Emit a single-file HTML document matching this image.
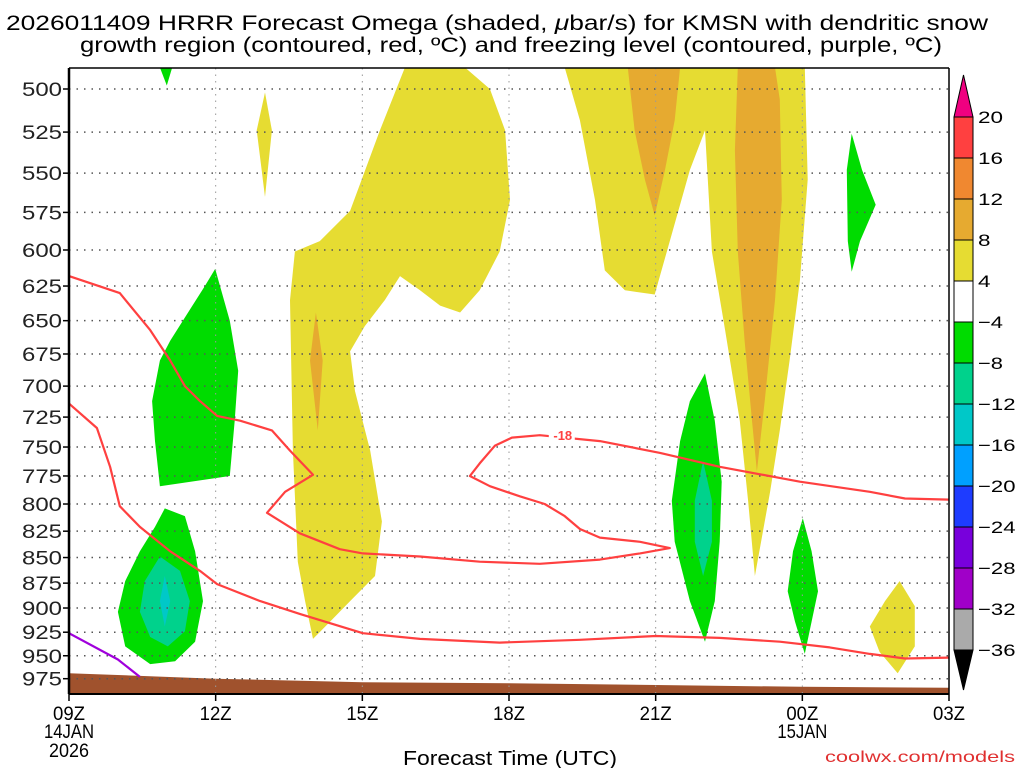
<!DOCTYPE html>
<html><head><meta charset="utf-8"><style>
html,body{margin:0;padding:0;background:#fff;}
body{width:1024px;height:768px;overflow:hidden;font-family:"Liberation Sans",sans-serif;}
svg text{font-family:"Liberation Sans","DejaVu Sans",sans-serif;}
</style></head><body>
<svg id="chart" width="1024" height="768" viewBox="0 0 1024 768" xmlns="http://www.w3.org/2000/svg">
<text x="6" y="30" font-size="21" textLength="982" lengthAdjust="spacingAndGlyphs" fill="#000">2026011409 HRRR Forecast Omega (shaded, <tspan font-style="italic">μ</tspan>bar/s) for KMSN with dendritic snow</text>
<text x="80" y="52" font-size="21" textLength="862" lengthAdjust="spacingAndGlyphs" fill="#000">growth region (contoured, red, ºC) and freezing level (contoured, purple, ºC)</text>
<g id="plot"></g>
<g id="cbar"></g>
<text x="403" y="765" font-size="20" textLength="214" lengthAdjust="spacingAndGlyphs" fill="#000">Forecast Time (UTC)</text>
<text x="825" y="762" font-size="16" textLength="190" lengthAdjust="spacingAndGlyphs" fill="#e03030">coolwx.com/models</text>
</svg>
<script>
// ---- data ----
const pressureTicks=[500,525,550,575,600,625,650,675,700,725,750,775,800,825,850,875,900,925,950,975];
const timeTicks=[0,3,6,9,12,15,18];
const timeLabels=["09Z","12Z","15Z","18Z","21Z","00Z","03Z"];
const cbarLabels=["20","16","12","8","4","−4","−8","−12","−16","−20","−24","−28","−32","−36"];
const cbarColors=["#ff4040","#f08830","#e6aa30","#e6dc32","#ffffff","#00dc00","#00d28c","#00c8c8","#00a0ff","#1e3cff","#7800dc","#a000c8","#aaaaaa"];
// shaded omega regions: [hour, mb]
const yellowBig=[[6.87,488],[6.36,524],[5.75,574],[5.13,594],[4.62,601],[4.52,635],[4.58,753],[4.68,854],[4.83,893],[4.99,932],[5.34,914],[5.75,893],[6.26,868],[6.40,816],[6.16,753],[5.85,704],[5.75,673],[6.05,654],[6.46,635],[6.77,618],[7.18,628],[7.59,639],[8.0,644],[8.4,628],[8.81,601],[9.02,567],[8.92,524],[8.61,500],[8.1,488]];
const orangeSmall=[[5.05,644],[5.19,680],[5.09,736],[4.93,680]];
const yellowSpike=[[4.01,502],[4.15,524],[4.01,565],[3.84,524]];
const yellowRight=[[10.14,488],[10.45,518],[10.76,567],[10.96,614],[11.37,628],[11.98,631],[12.29,594],[12.7,548],[13.01,524],[13.15,601],[13.42,657],[13.72,728],[13.89,797],[14.03,868],[14.34,789],[14.54,736],[14.74,680],[14.95,621],[15.11,554],[15.05,488]];
const orangeTop=[[11.43,488],[11.57,524],[11.78,554],[11.98,577],[12.19,548],[12.39,518],[12.5,488]];
const orangeColumn=[[13.68,488],[13.62,536],[13.68,601],[13.82,665],[13.97,728],[14.07,771],[14.23,712],[14.44,635],[14.58,567],[14.54,506],[14.44,488]];
const yellowLow=[[16.99,873],[17.3,898],[17.3,940],[16.95,969],[16.58,946],[16.38,919],[16.69,893]];
const greenTop=[[1.86,488],[2.11,488],[2.0,498]];
const greenUpper=[[2.99,613],[3.29,650],[3.46,688],[3.39,728],[3.29,775],[1.86,784],[1.76,745],[1.7,712],[1.86,680],[2.07,665],[2.47,642],[2.78,625]];
const greenLower=[[1.96,804],[2.37,811],[2.58,844],[2.74,893],[2.58,935],[2.17,956],[1.66,959],[1.15,940],[1.0,904],[1.15,873],[1.45,844],[1.76,821]];
const tealLower=[[1.86,849],[2.27,863],[2.47,893],[2.37,924],[2.02,940],[1.66,930],[1.45,904],[1.55,873]];
const cyanLower=[[1.96,868],[2.07,893],[1.96,919],[1.86,893]];
const greenSpindle=[[13.01,690],[13.21,728],[13.35,780],[13.31,835],[13.21,893],[13.01,935],[12.7,893],[12.39,835],[12.33,797],[12.5,745],[12.7,712]];
const tealSpindle=[[12.97,762],[13.15,797],[13.15,835],[12.97,868],[12.8,835],[12.8,797]];
const greenLate=[[15.01,813],[15.19,844],[15.32,883],[15.19,914],[15.05,948],[14.85,914],[14.7,883],[14.81,844]];
const greenHigh=[[16.01,526],[16.22,548],[16.5,570],[16.18,594],[16.01,615],[15.93,594],[15.91,548]];
// contours
const dgzUpper=[[0,618],[1.04,630],[1.66,657],[2.07,680],[2.37,700],[2.68,712],[3.03,724],[3.5,728],[4.15,736],[4.52,753],[4.99,774],[4.42,789],[4.05,808],[4.72,827],[5.54,842],[6.01,846],[7.18,849],[8.4,854],[9.63,856],[10.86,852],[11.68,846],[12.29,841],[11.68,835],[10.86,831],[10.45,823],[10.14,811],[9.73,800],[9.22,793],[8.61,784],[8.2,775],[8.4,764],[8.71,749],[9.06,742],[9.63,740],[10.86,745],[12.09,755],[13.31,767],[14.95,780],[16.38,789],[17.1,795],[18,796]];
const dgzLower=[[0,714],[0.57,734],[0.84,767],[1.04,802],[1.45,821],[2.07,844],[2.68,863],[3.03,876],[3.91,893],[4.72,906],[6.01,926],[7.18,932],[8.81,936],[10.45,933],[12.0,929],[13.31,931],[14.54,935],[15.56,941],[16.38,948],[17.1,953],[18,952]];
const freezing=[[0,926],[1.0,954],[1.45,973]];
const terrainHours=[0,3,6,9,12,15,18];
const terrainP=[969,975,979,980,982,984,985];
const contourLabel={h:10.1,p:740,text:"-18"};

// ---- axes ----
const X0=69,X1=949,Y0=68,Y1=694;
const xs=h=>X0+(X1-X0)*h/18;
const yp=p=>89+883*Math.log(p/500);
const NS="http://www.w3.org/2000/svg";
function mk(tag,attrs,parent){const e=document.createElementNS(NS,tag);for(const k in attrs)e.setAttribute(k,attrs[k]);parent.appendChild(e);return e;}
const plot=document.getElementById('plot');
const clip=mk('clipPath',{id:'pc'},mk('defs',{},plot));
mk('rect',{x:X0,y:Y0,width:X1-X0,height:Y1-Y0},clip);
const inner=mk('g',{'clip-path':'url(#pc)'},plot);
function pts(a){return a.map(d=>xs(d[0]).toFixed(1)+','+yp(d[1]).toFixed(1)).join(' ');}
function poly(a,fill,name){const e=mk('polygon',{points:pts(a),fill:fill},inner);

}
poly(yellowBig,'#e6dc32','omega-yellow-central');
poly(yellowSpike,'#e6dc32','omega-yellow-spike');
poly(yellowRight,'#e6dc32','omega-yellow-right');
poly(yellowLow,'#e6dc32','omega-yellow-low');
poly(orangeSmall,'#e6aa30','omega-orange-small');
poly(orangeTop,'#e6aa30','omega-orange-top');
poly(orangeColumn,'#e6aa30','omega-orange-column');
poly(greenTop,'#00dc00','omega-green-top');
poly(greenUpper,'#00dc00','omega-green-upper');
poly(greenLower,'#00dc00','omega-green-lower');
poly(tealLower,'#00d28c','omega-teal-lower');
poly(cyanLower,'#00c8c8','omega-cyan-lower');
poly(greenSpindle,'#00dc00','omega-green-spindle');
poly(tealSpindle,'#00d28c','omega-teal-spindle');
poly(greenLate,'#00dc00','omega-green-late');
poly(greenHigh,'#00dc00','omega-green-high');
// terrain
let tp=[];
for(let i=0;i<terrainHours.length;i++){tp.push([terrainHours[i],terrainP[i]]);}
let tstr=pts(tp)+' '+xs(18)+','+Y1+' '+xs(0)+','+Y1;
const terr=mk('polygon',{points:tstr,fill:'#a0522d'},inner);


// gridlines
pressureTicks.forEach(p=>{const l=mk('line',{x1:X0,x2:X1,y1:yp(p),y2:yp(p),stroke:'#555','stroke-width':1.5,'stroke-dasharray':'1.5 6'},inner);

});
timeTicks.slice(1,-1).forEach(h=>{const l=mk('line',{x1:xs(h),x2:xs(h),y1:Y0,y2:Y1,stroke:'#999','stroke-width':1,'stroke-dasharray':'1.5 5'},inner);

});
// contours
function line(a,color,name,w){const e=mk('polyline',{points:pts(a),fill:'none',stroke:color,'stroke-width':w,'stroke-linejoin':'round'},inner);

}
line(dgzUpper,'#ff4040','dgz-contour-upper',2.2);
line(dgzLower,'#ff4040','dgz-contour-lower',2.2);
line(freezing,'#a000dc','freezing-level-contour',2.2);
const lb=mk('rect',{x:xs(contourLabel.h)-14,y:yp(contourLabel.p)-7,width:26,height:13,fill:'#fff'},inner);
const lt=mk('text',{x:xs(contourLabel.h),y:yp(contourLabel.p)+5,'font-size':13,'font-weight':'bold','text-anchor':'middle',fill:'#ff4040'},inner);
lt.textContent=contourLabel.text;


// frame
mk('line',{x1:X0,y1:Y0,x2:X1,y2:Y0,stroke:'#000','stroke-width':1.5},plot);
mk('line',{x1:X1,y1:Y0,x2:X1,y2:Y1,stroke:'#000','stroke-width':1.5},plot);
mk('line',{x1:X0,y1:Y1,x2:X1,y2:Y1,stroke:'#000','stroke-width':2},plot);
mk('line',{x1:X0,y1:Y0,x2:X0,y2:Y1,stroke:'#000','stroke-width':2.5},plot);
// y ticks
pressureTicks.forEach(p=>{
 mk('line',{x1:X0-6,x2:X0,y1:yp(p),y2:yp(p),stroke:'#000','stroke-width':1.5},plot);
 const t=mk('text',{x:22,y:yp(p)+7,'font-size':19,textLength:40,lengthAdjust:'spacingAndGlyphs',fill:'#222'},plot);
 t.textContent=p;
 
 
});
// x ticks
timeTicks.forEach((h,i)=>{
 mk('line',{x1:xs(h),x2:xs(h),y1:Y1,y2:Y1+7,stroke:'#000','stroke-width':1.5},plot);
 const t=mk('text',{x:xs(h)-16,y:Y1+26,'font-size':19,textLength:32,lengthAdjust:'spacingAndGlyphs',fill:'#000'},plot);
 t.textContent=timeLabels[i];
 
 
});
function dl(h,y,s,w){const t=mk('text',{x:xs(h)-w/2,y:y,'font-size':19,textLength:w,lengthAdjust:'spacingAndGlyphs',fill:'#000'},plot);t.textContent=s;

}
dl(0,738,"14JAN",50);dl(0,757,"2026",40);dl(15,738,"15JAN",50);
// colorbar
const cb=document.getElementById('cbar');
const CX=954,CW=19,CT=117,CS=41;
mk('polygon',{points:`${CX},${CT} ${CX+CW},${CT} ${CX+CW/2},75`,fill:'#f00080',stroke:'#000','stroke-width':1},cb);
cbarColors.forEach((c,i)=>{const r=mk('rect',{x:CX,y:CT+i*CS,width:CW,height:CS,fill:c,stroke:'#000','stroke-width':1},cb);

});
mk('polygon',{points:`${CX},${CT+13*CS} ${CX+CW},${CT+13*CS} ${CX+CW/2},690`,fill:'#000',stroke:'#000','stroke-width':1},cb);
cbarLabels.forEach((s,i)=>{const w=s.length*12.5;const t=mk('text',{x:CX+CW+5,y:CT+i*CS+6,'font-size':17,textLength:w,lengthAdjust:'spacingAndGlyphs',fill:'#000'},cb);t.textContent=s;

});
</script>
</body></html>
